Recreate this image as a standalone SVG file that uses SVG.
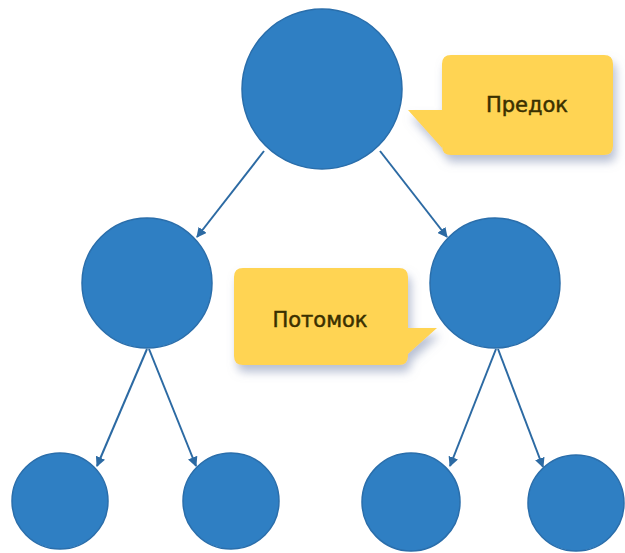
<svg xmlns="http://www.w3.org/2000/svg" width="625" height="553" viewBox="0 0 625 553">
  <style>
    .node { fill: #2F7FC3; stroke: #2A6EAB; stroke-width: 1.5; }
    .edge { stroke: #2C6AA3; stroke-width: 2; fill: none; marker-end: url(#arrow); }
    .callout { fill: #FFD452; filter: url(#shadow); }
    .label { font-family: "DejaVu Sans", "Liberation Sans", sans-serif; font-size: 21px; fill: #3A3000; stroke: #3A3000; stroke-width: 0.5; text-anchor: middle; }
  </style>
  <defs>
    <marker id="arrow" viewBox="0 0 10 10" refX="9" refY="5" markerWidth="5" markerHeight="5" orient="auto" markerUnits="strokeWidth">
      <path d="M0,0 L10,5 L0,10 z" fill="#2C6AA3"/>
    </marker>
    <filter id="shadow" x="-20%" y="-20%" width="150%" height="160%">
      <feDropShadow dx="3" dy="7" stdDeviation="5" flood-color="#7E8CB0" flood-opacity="0.55"/>
    </filter>
  </defs>
  <rect width="625" height="553" fill="#FFFFFF"/>

  <g id="connectors">
    <line class="edge" x1="264" y1="151" x2="197" y2="237"/>
    <line class="edge" x1="380" y1="151" x2="447" y2="237"/>
    <line class="edge" x1="147" y1="349" x2="97" y2="466"/>
    <line class="edge" x1="149" y1="349" x2="196" y2="466"/>
    <line class="edge" x1="496" y1="349" x2="450" y2="466"/>
    <line class="edge" x1="498" y1="349" x2="543" y2="467"/>
  </g>

  <g id="root">
    <circle class="node" cx="322" cy="89" r="80"/>
  </g>
  <g id="child-left">
    <circle class="node" cx="147" cy="283" r="65"/>
  </g>
  <g id="child-right">
    <circle class="node" cx="495" cy="283" r="65"/>
  </g>
  <g id="leaf-1">
    <circle class="node" cx="60" cy="501" r="48"/>
  </g>
  <g id="leaf-2">
    <circle class="node" cx="231" cy="501" r="48"/>
  </g>
  <g id="leaf-3">
    <circle class="node" cx="411" cy="502" r="49"/>
  </g>
  <g id="leaf-4">
    <circle class="node" cx="576" cy="503" r="48"/>
  </g>

  <g id="callout-ancestor">
    <path class="callout" d="M451,55 H604 Q613,55 613,64 V146 Q613,155 604,155 H451 Q442,155 442,146 V148 L408,110 H442 V64 Q442,55 451,55 Z"/>
    <text class="label" x="527" y="112">Предок</text>
  </g>

  <g id="callout-descendant">
    <path class="callout" d="M243,268 H399 Q408,268 408,277 V328 H437 L408,354 V356 Q408,365 399,365 H243 Q234,365 234,356 V277 Q234,268 243,268 Z"/>
    <text class="label" x="320" y="327">Потомок</text>
  </g>
</svg>
